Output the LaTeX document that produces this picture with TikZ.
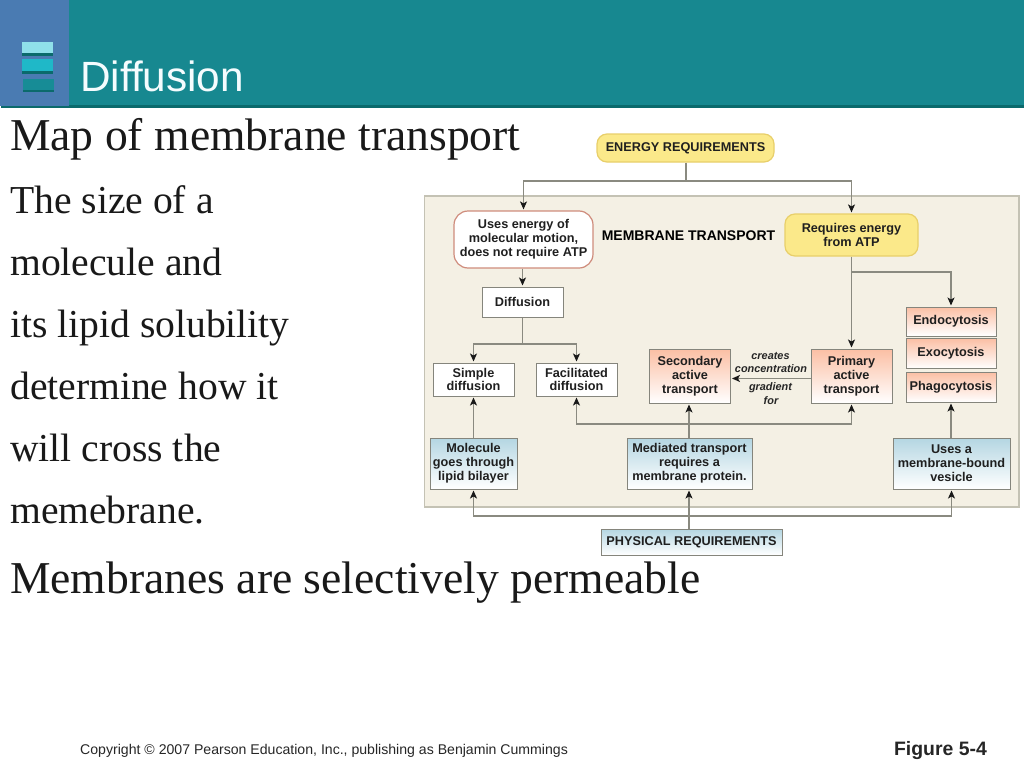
\documentclass[tikz,border=0pt]{standalone}
\usepackage{fontspec}
\setmainfont{Liberation Serif}
\newfontfamily\arialf{Liberation Sans}
\usetikzlibrary{arrows.meta}
\definecolor{tealbar}{HTML}{178890}
\definecolor{tealdark}{HTML}{0B6A6C}
\definecolor{bluesq}{HTML}{4A7BB2}
\definecolor{panelc}{HTML}{F4F0E4}
\definecolor{panelb}{HTML}{C4C2B4}
\definecolor{linec}{HTML}{8A8A80}
\definecolor{boxb}{HTML}{85857C}
\definecolor{yel}{HTML}{FBE98A}
\definecolor{yelb}{HTML}{E8CF6A}
\definecolor{salm}{HTML}{FBBFA4}
\definecolor{skyb}{HTML}{B4D6E2}
\definecolor{redb}{HTML}{CF8C7C}
\definecolor{bar1}{HTML}{8FE0EA}
\definecolor{bar2}{HTML}{1FB8C8}
\definecolor{bar3}{HTML}{178C96}
\tikzset{
  x=1pt,y=-1pt,
  boxtext/.style={font=\arialf\bfseries\fontsize{12.7}{13.9}\selectfont,text=black!88,align=center,inner xsep=0pt,inner ysep=0pt,execute at begin node={\vspace*{1.6pt}}},
  plainbox/.style={boxtext,draw=boxb,line width=1pt,fill=white},
  yellowbox/.style={boxtext,draw=yelb,line width=1.2pt,fill=yel,rounded corners=10pt},
  redbox/.style={boxtext,draw=redb,line width=1.2pt,fill=white,rounded corners=14pt},
  salmonbox/.style={boxtext,draw=boxb,line width=1pt,top color=salm,bottom color=white},
  bluebox/.style={boxtext,draw=boxb,line width=1pt,top color=skyb,bottom color=white},
  conn/.style={draw=linec,line width=1.1pt},
  arr/.style={conn,shorten >=1pt,-{Stealth[length=8pt,width=7pt,inset=2pt,black!90]}},
  bodyl/.style={font=\fontsize{39.6}{44}\selectfont,text=black!90,anchor=base west,inner sep=0pt},
  headl/.style={font=\fontsize{45.6}{50}\selectfont,text=black!90,anchor=base west,inner sep=0pt},
  ital/.style={font=\arialf\bfseries\itshape\fontsize{10.9}{12}\selectfont,text=black!85,inner sep=0pt},
}
\begin{document}
\begin{tikzpicture}
\useasboundingbox (0,0) rectangle (1024,768);
\fill[white] (0,0) rectangle (1024,768);
% header
\fill[tealbar] (0,0) rectangle (1024,105);
\fill[tealdark] (1,105) rectangle (1024,108);
\fill[bluesq] (0,0) rectangle (69,106);
\fill[tealdark] (22,50) rectangle (53,56);
\fill[tealdark] (22,68) rectangle (53,74);
\fill[tealdark] (23,87) rectangle (54,92);
\fill[bar1] (22,42) rectangle (53,53);
\fill[bar2] (22,59) rectangle (53,71);
\fill[bar3] (23,79) rectangle (54,90);
\node[font=\arialf\fontsize{42.3}{46}\selectfont,text=white!96!cyan,anchor=base west,inner sep=0pt] (title) at (80,91) {Diffusion};
% left text
\node[headl] (t1) at (10,150) {Map of membrane transport};
\node[bodyl] (t2) at (10,213) {The size of a};
\node[bodyl] (t3) at (10,275) {molecule and};
\node[bodyl] (t4) at (10,337) {its lipid solubility};
\node[bodyl] (t5) at (10,399) {determine how it};
\node[bodyl] (t6) at (10,461) {will cross the};
\node[bodyl] (t7) at (10,523) {memebrane.};
\node[headl] (t8) at (10,593) {Membranes are selectively permeable};
% panel
\fill[panelc,draw=panelb,line width=1.2pt] (424.5,196) rectangle (1019,507);
% boxes
\node[yellowbox,minimum width=177pt,minimum height=28pt] (energy) at (685.5,148) {ENERGY REQUIREMENTS};
\node[redbox,minimum width=139pt,minimum height=57pt] (motion) at (523.5,239.5) {Uses energy of\\molecular motion,\\does not require ATP};
\node[yellowbox,minimum width=133pt,minimum height=42pt] (atp) at (851.5,235) {Requires energy\\from ATP};
\node[font=\arialf\bfseries\fontsize{14}{15}\selectfont,text=black,inner sep=0pt] (mt) at (688.5,236) {MEMBRANE TRANSPORT};
\node[plainbox,minimum width=81pt,minimum height=30pt] (diff) at (522.5,302) {Diffusion};
\node[plainbox,minimum width=81pt,minimum height=33pt] (simple) at (473.5,379.5) {Simple\\diffusion};
\node[plainbox,minimum width=81pt,minimum height=33pt] (fac) at (576.5,379.5) {Facilitated\\diffusion};
\node[salmonbox,minimum width=81pt,minimum height=54pt] (sec) at (690,376) {Secondary\\active\\transport};
\node[salmonbox,minimum width=81pt,minimum height=54pt] (prim) at (851.5,376) {Primary\\active\\transport};
\node[salmonbox,minimum width=90pt,minimum height=29pt] (endo) at (951,321.5) {Endocytosis};
\node[salmonbox,minimum width=90pt,minimum height=30pt] (exo) at (951,353.5) {Exocytosis};
\node[salmonbox,minimum width=90pt,minimum height=30pt] (phago) at (951,387) {Phagocytosis};
\node[bluebox,minimum width=87pt,minimum height=51pt] (mol) at (473.5,463.5) {Molecule\\goes through\\lipid bilayer};
\node[bluebox,minimum width=125pt,minimum height=51pt] (med) at (689.5,463.5) {Mediated transport\\requires a\\membrane protein.};
\node[bluebox,minimum width=117pt,minimum height=51pt] (ves) at (951.5,463.5) {Uses a\\membrane-bound\\vesicle};
\node[bluebox,minimum width=181pt,minimum height=26pt] (phys) at (691.5,542) {PHYSICAL REQUIREMENTS};
\node[ital] (l1) at (770.5,356) {creates};
\node[ital] (l2) at (771,369) {concentration};
\node[ital] (l3) at (770.5,388) {gradient};
\node[ital] (l4) at (771,400.5) {for};
% junctions
\coordinate (jtop) at (686,181);
\coordinate (jdiff) at (522.5,344);
\coordinate (jatp) at (851.5,272);
\coordinate (jmed) at (689,424);
\coordinate (jphys) at (689,516);
\coordinate (jprim) at (811,378.5);
% connectors
\draw[conn] (energy.south -| jtop) -- (jtop);
\draw[arr] (jtop) -| (motion.north);
\draw[arr] (jtop) -| (atp.north);
\draw[arr] (motion.south -| diff.north) -- (diff.north);
\draw[conn] (diff.south) -- (jdiff);
\draw[arr] (jdiff) -| (simple.north);
\draw[arr] (jdiff) -| (fac.north);
\draw[arr] (atp.south) -- (prim.north);
\draw[arr] (jatp) -| (endo.north);
\draw[arr] (jprim) -- (sec.east |- jprim);
\draw[arr] (mol.north) -- (simple.south);
\draw[arr] (med.north -| jmed) -- (sec.south -| jmed);
\draw[arr] (jmed) -| (fac.south);
\draw[arr] (jmed) -| (prim.south);
\draw[arr] (ves.north -| phago.south) -- (phago.south);
\draw[arr] (phys.north -| jphys) -- (med.south -| jphys);
\draw[arr] (jphys) -| (mol.south);
\draw[arr] (jphys) -| (ves.south);
% footer
\node[font=\arialf\fontsize{14.1}{16}\selectfont,text=black!85,anchor=base west,inner sep=0pt] (copy) at (80,754) {Copyright © 2007 Pearson Education, Inc., publishing as Benjamin Cummings};
\node[font=\arialf\bfseries\fontsize{19.4}{22}\selectfont,text=black!85,anchor=base east,inner sep=0pt] (fig) at (987,755) {Figure 5-4};
\end{tikzpicture}
\end{document}
